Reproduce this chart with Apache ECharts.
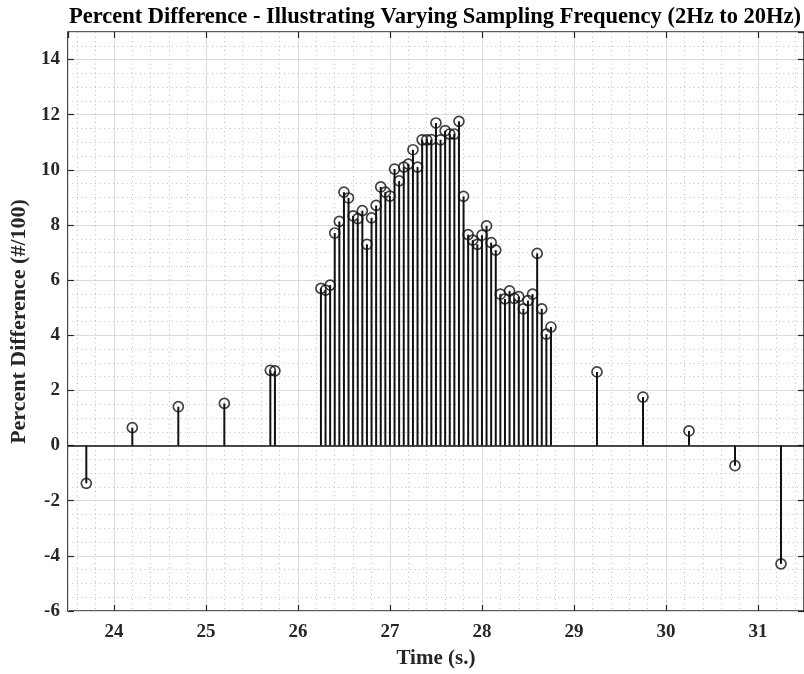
<!DOCTYPE html>
<html>
<head>
<meta charset="utf-8">
<script src="https://cdn.jsdelivr.net/npm/echarts@6/dist/echarts.min.js"></script>
<style>html,body{margin:0;padding:0;background:#fff}#chart{width:804px;height:674px}</style>
</head>
<body>
<div id="chart"></div>
<script>
// ---- data ----
const titleText = 'Percent Difference - Illustrating Varying Sampling Frequency (2Hz to 20Hz)';
const xName = 'Time (s.)';
const yName = 'Percent Difference (#/100)';

// 2 Hz samples before the dense block
const leftTimes  = [23.7, 24.2, 24.7, 25.2, 25.7, 25.75];
const leftValues = [-1.37, 0.65, 1.41, 1.53, 2.73, 2.71];

// 20 Hz samples
const denseTimes = [
  26.25, 26.30, 26.35, 26.40, 26.45, 26.50, 26.55, 26.60, 26.65, 26.70,
  26.75, 26.80, 26.85, 26.90, 26.95, 27.00, 27.05, 27.10, 27.15, 27.20,
  27.25, 27.30, 27.35, 27.40, 27.45, 27.50, 27.55, 27.60, 27.65, 27.70,
  27.75, 27.80, 27.85, 27.90, 27.95, 28.00, 28.05, 28.10, 28.15, 28.20,
  28.25, 28.30, 28.35, 28.40, 28.45, 28.50, 28.55, 28.60, 28.65, 28.70,
  28.75
];
const denseValues = [
  5.70, 5.64, 5.82, 7.71, 8.13, 9.19, 8.98, 8.33, 8.23, 8.52,
  7.30, 8.26, 8.71, 9.38, 9.19, 9.05, 10.03, 9.60, 10.10, 10.21,
  10.73, 10.10, 11.09, 11.09, 11.10, 11.70, 11.09, 11.42, 11.30, 11.30,
  11.76, 9.04, 7.65, 7.45, 7.30, 7.63, 7.97, 7.36, 7.09, 5.49,
  5.32, 5.61, 5.34, 5.40, 4.96, 5.26, 5.49, 6.97, 4.96, 4.04,
  4.30
];

// 2 Hz samples after the dense block
const rightTimes  = [29.25, 29.75, 30.25, 30.75, 31.25];
const rightValues = [2.67, 1.76, 0.53, -0.73, -4.29];

const xMin = 23.5, xMax = 31.5;
const yMin = -6, yMax = 15, yStep = 2;

// ---- build ----
const allTimes = leftTimes.concat(denseTimes, rightTimes);
const allValues = leftValues.concat(denseValues, rightValues);
const points = allTimes.map((t, i) => [t, allValues[i]]);

const FONT = '"Liberation Serif", "Times New Roman", serif';
const INK = '#262626';

const chart = echarts.init(document.getElementById('chart'), null, {renderer: 'canvas'});

const minorLine = {show: true, lineStyle: {color: '#bdbdbd', width: 1, type: [1, 3.5]}};
const majorLine = {show: true, lineStyle: {color: '#dcdcdc', width: 1, type: 'solid'}};
const tickIn = {show: true, inside: true, length: 6, lineStyle: {color: INK, width: 1.2}};

const option = {
  animation: false,
  backgroundColor: '#fff',
  title: {
    text: titleText,
    left: 430,
    top: 1,
    textAlign: 'center',
    textStyle: {fontFamily: FONT, fontWeight: 'bold', fontSize: 22.5, color: '#000'}
  },
  grid: {
    left: 65, top: 32, width: 740, height: 582,
    show: true, borderColor: INK, borderWidth: 1.5, backgroundColor: 'transparent'
  },
  xAxis: [{
    type: 'value', min: xMin, max: xMax, splitNumber: 8, minInterval: 1, maxInterval: 1,
    position: 'bottom',
    name: xName, nameLocation: 'middle', nameGap: 37,
    nameTextStyle: {fontFamily: FONT, fontWeight: 'bold', fontSize: 21, color: INK},
    axisLine: {show: false, onZero: false},
    axisTick: tickIn,
    minorTick: {show: false, splitNumber: 5},
    axisLabel: {fontFamily: FONT, fontWeight: 'bold', fontSize: 19, color: INK, margin: 12,
                showMinLabel: false, showMaxLabel: false},
    splitLine: majorLine,
    minorSplitLine: minorLine
  }, {
    type: 'value', min: xMin, max: xMax, splitNumber: 8, minInterval: 1, maxInterval: 1,
    position: 'top',
    axisLine: {show: false, onZero: false}, axisTick: tickIn, axisLabel: {show: false},
    splitLine: {show: false}
  }],
  yAxis: [{
    type: 'value', min: yMin, max: yMax, interval: yStep,
    position: 'left',
    name: yName, nameLocation: 'middle', nameGap: 30,
    nameTextStyle: {fontFamily: FONT, fontWeight: 'bold', fontSize: 22, color: INK},
    axisLine: {show: false, onZero: false},
    axisTick: tickIn,
    minorTick: {show: false, splitNumber: 4},
    axisLabel: {fontFamily: FONT, fontWeight: 'bold', fontSize: 19, color: INK, margin: 8,
                showMaxLabel: false},
    splitLine: majorLine,
    minorSplitLine: minorLine
  }, {
    type: 'value', min: yMin, max: yMax, interval: yStep,
    position: 'right',
    axisLine: {show: false, onZero: false}, axisTick: tickIn, axisLabel: {show: false},
    splitLine: {show: false}
  }],
  series: [{
    type: 'custom',
    xAxisIndex: 0, yAxisIndex: 0,
    data: points,
    encode: {x: 0, y: 1},
    z: 3,
    renderItem: function (params, api) {
      const base = api.coord([api.value(0), 0]);
      const top = api.coord([api.value(0), api.value(1)]);
      return {
        type: 'line',
        shape: {x1: base[0], y1: base[1], x2: top[0], y2: top[1]},
        style: {stroke: '#111', lineWidth: 2}
      };
    }
  }, {
    type: 'scatter',
    xAxisIndex: 0, yAxisIndex: 0,
    data: points,
    symbol: 'circle',
    symbolSize: 10,
    z: 4,
    itemStyle: {color: 'rgba(0,0,0,0)', borderColor: '#111', borderWidth: 1.7},
    emphasis: {disabled: true},
    markLine: {
      silent: true, symbol: 'none', animation: false,
      label: {show: false},
      lineStyle: {color: '#111', width: 1.6, type: 'solid'},
      data: [{yAxis: 0}]
    }
  }]
};
chart.setOption(option);
</script>
</body>
</html>
